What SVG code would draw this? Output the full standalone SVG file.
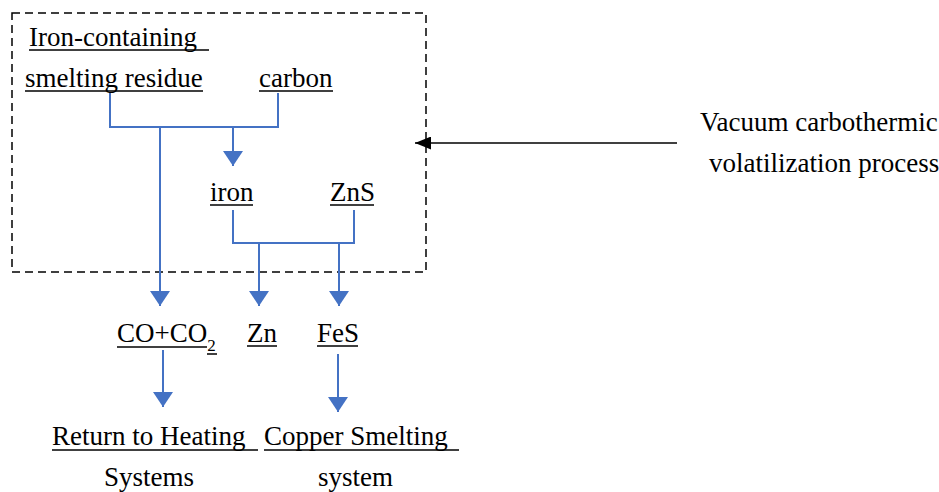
<svg xmlns="http://www.w3.org/2000/svg" width="939" height="492" viewBox="0 0 939 492">
<defs>
<style>
text{font-family:"Liberation Serif","Times New Roman",serif;font-size:27px;fill:#000}
.ul{stroke:#000;stroke-width:1.5}
.bl{stroke:#4472C4;stroke-width:2;fill:none}
</style>
<marker id="ba" viewBox="0 0 10 10" refX="10" refY="5" markerWidth="15" markerHeight="20" markerUnits="userSpaceOnUse" orient="auto" preserveAspectRatio="none"><path d="M0,0 L10,5 L0,10 z" fill="#4472C4"/></marker>
<marker id="ka" viewBox="0 0 10 10" refX="10" refY="5" markerWidth="16" markerHeight="13" markerUnits="userSpaceOnUse" orient="auto" preserveAspectRatio="none"><path d="M0,0 L10,5 L0,10 z" fill="#000"/></marker>
</defs>
<rect width="939" height="492" fill="#fff"/>
<g id="box"><rect x="12" y="13" width="414" height="259" fill="none" stroke="#000" stroke-width="1.5" stroke-dasharray="8,5"/></g>
<g id="n-residue"><text x="29" y="46">Iron-containing</text><line class="ul" x1="29" y1="50" x2="209" y2="50"/><text x="25" y="87">smelting residue</text><line class="ul" x1="25" y1="91" x2="203" y2="91"/></g>
<g id="n-carbon"><text x="259" y="87">carbon</text><line class="ul" x1="259" y1="91" x2="333" y2="91"/></g>
<g id="n-iron"><text x="210" y="201">iron</text><line class="ul" x1="210" y1="205" x2="253" y2="205"/></g>
<g id="n-zns"><text x="330" y="201">ZnS</text><line class="ul" x1="330" y1="205" x2="374" y2="205"/></g>
<g id="n-co"><text x="117" y="342">CO+CO<tspan font-size="17" dy="9">2</tspan></text><line class="ul" x1="117" y1="347" x2="207" y2="347"/><line class="ul" x1="207" y1="354" x2="217" y2="354"/></g>
<g id="n-zn"><text x="247" y="342">Zn</text><line class="ul" x1="247" y1="346" x2="277" y2="346"/></g>
<g id="n-fes"><text x="317" y="342">FeS</text><line class="ul" x1="317" y1="346" x2="358" y2="346"/></g>
<g id="n-heat"><text x="52" y="445">Return to Heating</text><line class="ul" x1="52" y1="450" x2="258" y2="450"/><text x="104" y="486">Systems</text></g>
<g id="n-copper"><text x="264" y="445">Copper Smelting</text><line class="ul" x1="264" y1="450" x2="459" y2="450"/><text x="318" y="486">system</text></g>
<g id="n-process"><text x="700" y="131">Vacuum carbothermic</text><text x="709" y="172">volatilization process</text></g>
<g id="connectors">
<path class="bl" d="M110,93 V127 H278 V93"/>
<line class="bl" x1="233" y1="127" x2="233" y2="166" marker-end="url(#ba)"/>
<line class="bl" x1="160" y1="127" x2="160" y2="306" marker-end="url(#ba)"/>
<path class="bl" d="M233,210 V243 H354 V210"/>
<line class="bl" x1="259" y1="243" x2="259" y2="306" marker-end="url(#ba)"/>
<line class="bl" x1="339" y1="243" x2="339" y2="306" marker-end="url(#ba)"/>
<line class="bl" x1="163" y1="350" x2="163" y2="407" marker-end="url(#ba)"/>
<line class="bl" x1="338" y1="354" x2="338" y2="412" marker-end="url(#ba)"/>
<line x1="677" y1="143" x2="415" y2="143" stroke="#000" stroke-width="1.5" marker-end="url(#ka)"/>
</g>
</svg>
